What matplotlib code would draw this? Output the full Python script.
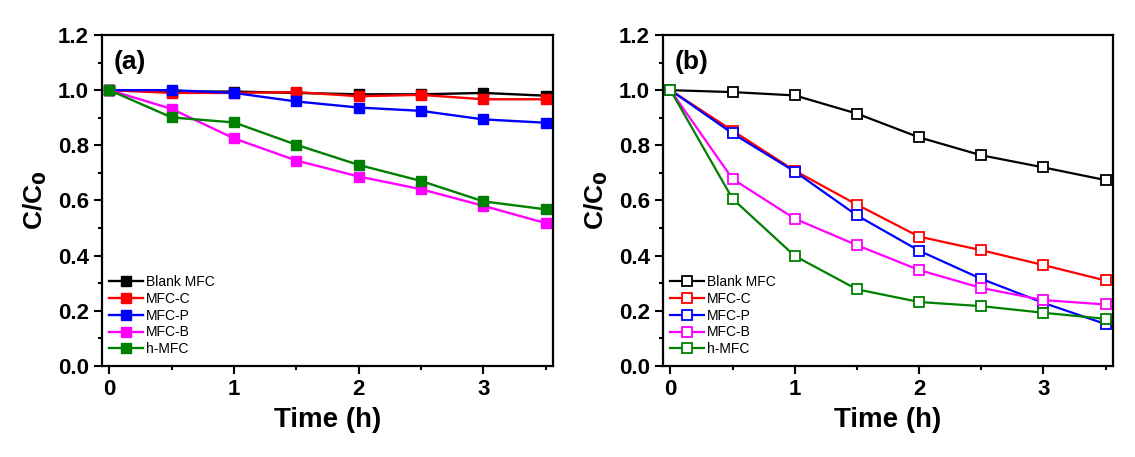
import matplotlib
matplotlib.use("Agg")
import matplotlib.pyplot as plt
from matplotlib.ticker import MultipleLocator

plt.rcParams['font.family'] = ['Liberation Sans', 'DejaVu Sans']

time_h = [0, 0.5, 1, 1.5, 2, 2.5, 3, 3.5]
series_names = ["Blank MFC", "MFC-C", "MFC-P", "MFC-B", "h-MFC"]
colors = ["#000000", "#ff0000", "#0000ff", "#ff00ff", "#008000"]

# Panel (a)
a_blank = [1.0, 0.995, 0.995, 0.99, 0.985, 0.985, 0.99, 0.98]
a_c = [1.0, 0.99, 0.99, 0.993, 0.978, 0.983, 0.967, 0.967]
a_p = [1.0, 1.0, 0.99, 0.959, 0.937, 0.925, 0.894, 0.882]
a_b = [1.0, 0.932, 0.825, 0.745, 0.687, 0.641, 0.581, 0.518]
a_h = [1.0, 0.901, 0.883, 0.802, 0.729, 0.671, 0.597, 0.568]

# Panel (b)
b_blank = [1.0, 0.993, 0.981, 0.915, 0.829, 0.764, 0.720, 0.674]
b_c = [1.0, 0.853, 0.708, 0.585, 0.469, 0.420, 0.366, 0.310]
b_p = [1.0, 0.843, 0.705, 0.546, 0.418, 0.316, 0.229, 0.152]
b_b = [1.0, 0.678, 0.534, 0.438, 0.348, 0.283, 0.239, 0.223]
b_h = [1.0, 0.606, 0.399, 0.278, 0.232, 0.217, 0.193, 0.171]

panel_a = [a_blank, a_c, a_p, a_b, a_h]
panel_b = [b_blank, b_c, b_p, b_b, b_h]

fig = plt.figure(figsize=(11.35, 4.57), dpi=100)
ax_a = fig.add_axes([102/1135, 91/457, 451/1135, 331/457])
ax_b = fig.add_axes([663/1135, 91/457, 450/1135, 331/457])


def style(ax, label):
    ax.set_xlim(-0.06, 3.56)
    ax.set_ylim(0, 1.2)
    ax.xaxis.set_major_locator(MultipleLocator(1))
    ax.xaxis.set_minor_locator(MultipleLocator(0.5))
    ax.yaxis.set_minor_locator(MultipleLocator(0.1))
    ax.set_yticks([0, 0.2, 0.4, 0.6, 0.8, 1.0, 1.2])
    ax.set_yticklabels(["0.0", "0.2", "0.4", "0.6", "0.8", "1.0", "1.2"])
    ax.tick_params(which='major', direction='out', length=6, width=1.5,
                   labelsize=16, top=False, right=False)
    ax.tick_params(which='minor', direction='out', length=3, width=1.5,
                   top=False, right=False)
    for lbl in ax.get_xticklabels() + ax.get_yticklabels():
        lbl.set_fontweight('bold')
    for sp in ax.spines.values():
        sp.set_linewidth(1.6)
    ax.set_xlabel("Time (h)", fontsize=20, fontweight='bold', labelpad=5)
    ax.set_ylabel("C/C$_\\mathbf{0}$", fontsize=19, fontweight='bold', labelpad=6)
    ax.text(0.025, 0.955, label, transform=ax.transAxes, fontsize=19,
            fontweight='bold', va='top', ha='left')
    ax.legend(loc='lower left', bbox_to_anchor=(-0.005, 0.0), frameon=False,
              fontsize=10, handlelength=2.4, handletextpad=0.2,
              labelspacing=0.2, borderaxespad=0.3)


for name, c, vals in zip(series_names, colors, panel_a):
    ax_a.plot(time_h, vals, color=c, marker='s', markersize=7.5, linewidth=1.7,
              markerfacecolor=c, markeredgecolor=c, label=name, clip_on=False)
for name, c, vals in zip(series_names, colors, panel_b):
    ax_b.plot(time_h, vals, color=c, marker='s', markersize=7.5, linewidth=1.6,
              markerfacecolor='white', markeredgecolor=c, markeredgewidth=1.3,
              label=name, clip_on=False)

style(ax_a, "(a)")
style(ax_b, "(b)")

fig.savefig("out.png", dpi=100)
